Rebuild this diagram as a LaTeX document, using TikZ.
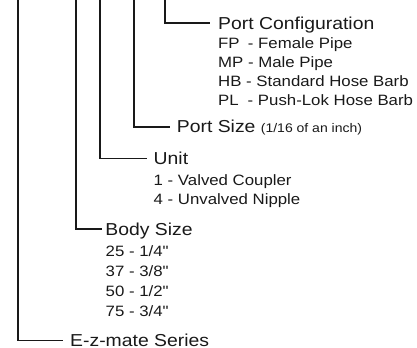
\documentclass[tikz,border=0pt]{standalone}
\usepackage{fontspec}
\setmainfont{Liberation Sans}[FakeStretch=1.12]
\newcommand{\smallnote}{\fontsize{12.5bp}{15bp}\selectfont}
\begin{document}
\begin{tikzpicture}[x=1bp,y=-1bp,
  conn/.style={line width=1.7bp, black!90},
  head/.style={anchor=west, inner ysep=0pt, text height=12.4bp, text depth=0pt, text=black!90, font=\fontsize{17.3bp}{20bp}\selectfont},
  sub/.style={anchor=base west, inner sep=0pt, text=black!90, font=\fontsize{15bp}{18bp}\selectfont}]
\useasboundingbox (0,0) rectangle (417,348);
% top ends of the vertical leaders
\coordinate (t1) at (18,0);
\coordinate (t2) at (76,0);
\coordinate (t3) at (100,0);
\coordinate (t4) at (134,0);
\coordinate (t5) at (165,0);
% headings
\node[head, inner xsep=8bp] (pc) at (210,23.3) {Port Configuration};
\node[head, inner xsep=6.7bp] (ps) at (170,126.7) {Port Size {\smallnote (1/16 of an inch)}};
\node[head, inner xsep=6.5bp] (un) at (147,158.5) {Unit};
\node[head, inner xsep=3.5bp] (bs) at (101.7,229) {Body Size};
\node[head, inner xsep=7bp] (ez) at (63,340.5) {E-z-mate Series};
% sub texts
\node[sub] (pc1) at (218,48) {FP\hspace{0.55em}- Female Pipe};
\node[sub] (pc2) at (218,67) {MP - Male Pipe};
\node[sub] (pc3) at (218,86) {HB - Standard Hose Barb};
\node[sub] (pc4) at (218,105) {PL\hspace{0.6em}- Push-Lok Hose Barb};
\node[sub] (un1) at (153.5,185) {1 - Valved Coupler};
\node[sub] (un2) at (153.5,204) {4 - Unvalved Nipple};
\node[sub] (bs1) at (105.5,256.5) {25 - 1/4\textquotedbl};
\node[sub] (bs2) at (105.5,276) {37 - 3/8\textquotedbl};
\node[sub] (bs3) at (105.5,296) {50 - 1/2\textquotedbl};
\node[sub] (bs4) at (105.5,316) {75 - 3/4\textquotedbl};
% connectors
\draw[conn] (t5) |- (pc.west);
\draw[conn] (t4) |- (ps.west);
\draw[conn] (t3) |- (un.west);
\draw[conn] (t2) |- (bs.west);
\draw[conn] (t1) |- (ez.west);
\end{tikzpicture}
\end{document}
